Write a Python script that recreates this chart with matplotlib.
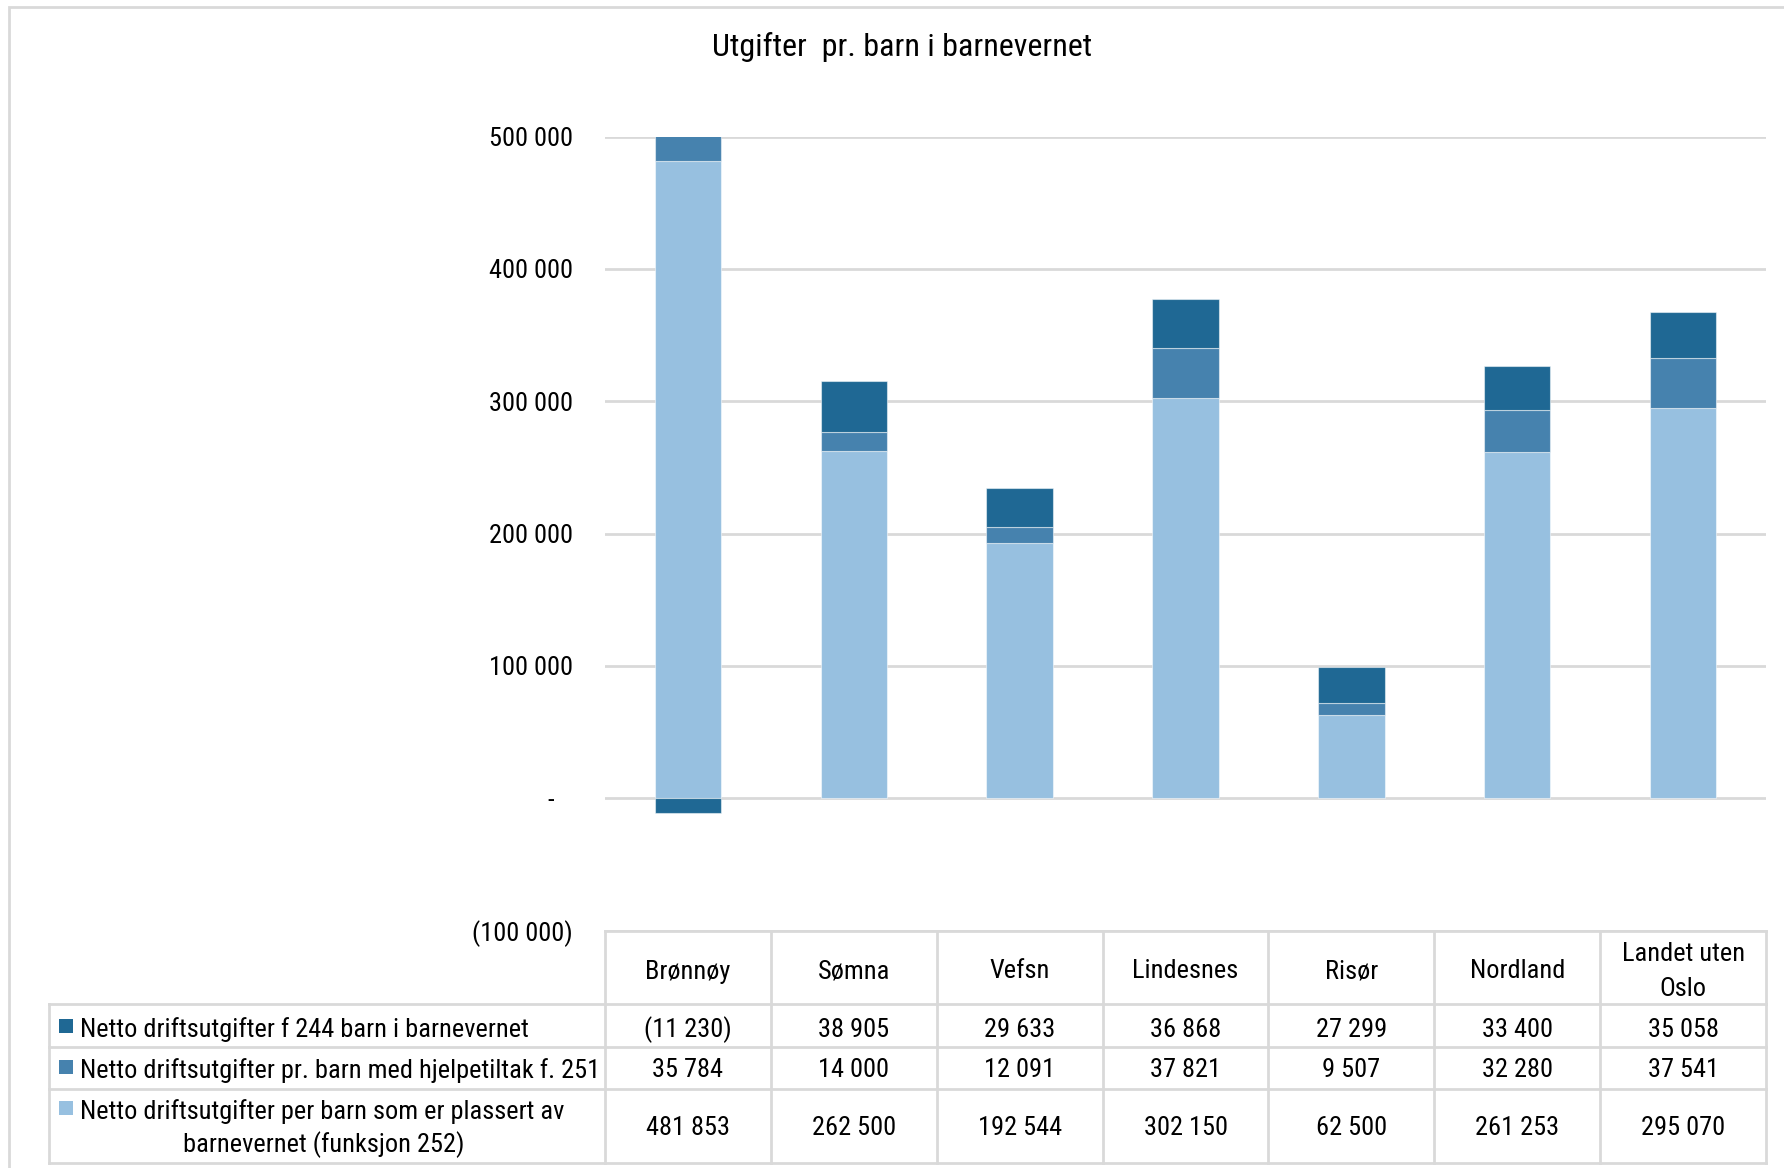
import matplotlib
matplotlib.use("Agg")
import matplotlib.pyplot as plt
from matplotlib.lines import Line2D
from matplotlib.patches import Rectangle
from matplotlib.transforms import blended_transform_factory

plt.rcParams["font.family"] = ["Roboto Condensed", "DejaVu Sans"]

# ---- data -------------------------------------------------------------
title = "Utgifter  pr. barn i barnevernet"
categories = ["Brønnøy", "Sømna", "Vefsn", "Lindesnes", "Risør", "Nordland", "Landet uten\nOslo"]
series_labels = [
    "Netto driftsutgifter f 244 barn i barnevernet",
    "Netto driftsutgifter pr. barn med hjelpetiltak f. 251",
    "Netto driftsutgifter per barn som er plassert av\nbarnevernet (funksjon 252)",
]
f244 = [-11230, 38905, 29633, 36868, 27299, 33400, 35058]
f251 = [35784, 14000, 12091, 37821, 9507, 32280, 37541]
f252 = [481853, 262500, 192544, 302150, 62500, 261253, 295070]
y_ticks = [-100000, 0, 100000, 200000, 300000, 400000, 500000]

colors = {"f244": "#1F6894", "f251": "#4682AE", "f252": "#97C0E0"}
grid_color = "#D9D9D9"

W, H = 1784, 1168


def fmt(v):
    """Norwegian accounting style: space as thousands separator, negatives in parentheses."""
    if v == 0:
        return "-   "
    s = f"{abs(v):,}".replace(",", " ")
    return f"({s})" if v < 0 else s


def fx(px):
    return px / W


def fy(py):
    return 1 - py / H


fig = plt.figure(figsize=(W / 100, H / 100), dpi=100)

# chart area
ax_left, ax_right, ax_top, ax_bottom = 605, 1766, 136.5, 930.5
ax = fig.add_axes([fx(ax_left), fy(ax_bottom), fx(ax_right - ax_left), (ax_bottom - ax_top) / H])
ax.set_xlim(-0.5, len(categories) - 0.5)
ax.set_ylim(y_ticks[0], y_ticks[-1])
for s in ax.spines.values():
    s.set_visible(False)
ax.set_yticks(y_ticks)
ax.set_yticklabels([fmt(t) for t in y_ticks], fontsize=19)
ax.tick_params(axis="y", length=0, pad=23)
ax.tick_params(axis="x", length=0, labelbottom=False)
ax.set_axisbelow(True)
ax.yaxis.grid(True, color=grid_color, linewidth=2)

x = list(range(len(categories)))
bw = 0.4
pos_base = [0] * len(x)
neg_base = [0] * len(x)
for key, vals in (("f252", f252), ("f251", f251), ("f244", f244)):
    bottoms = [pos_base[i] if v >= 0 else neg_base[i] for i, v in enumerate(vals)]
    ax.bar(x, vals, bw, bottom=bottoms, color=colors[key],
           edgecolor=(1, 1, 1, 0.5), linewidth=0.8, zorder=3)
    for i, v in enumerate(vals):
        if v >= 0:
            pos_base[i] += v
        else:
            neg_base[i] += v

fig.text(fx(902), fy(47.5), title, ha="center", va="center", fontsize=23)

# ---- data table -------------------------------------------------------
bt = blended_transform_factory(ax.transData, fig.transFigure)
row_edges = [930.5, 1003.5, 1046.8, 1088.9, 1162.8]
tbl_left = 49
lw_tbl = 2

# horizontal lines
fig.add_artist(Line2D([ax_left, ax_right], [H - row_edges[0]] * 2, color=grid_color,
                      lw=lw_tbl, transform=None))
for r in row_edges[1:]:
    fig.add_artist(Line2D([fx(tbl_left), fx(ax_right)], [fy(r)] * 2, color=grid_color,
                          lw=lw_tbl, transform=fig.transFigure))
# vertical lines
for b in range(len(categories) + 1):
    fig.add_artist(Line2D([b - 0.5, b - 0.5], [fy(row_edges[0]), fy(row_edges[-1])],
                          color=grid_color, lw=lw_tbl, transform=bt))
fig.add_artist(Line2D([fx(tbl_left)] * 2, [fy(row_edges[1]), fy(row_edges[-1])],
                      color=grid_color, lw=lw_tbl, transform=fig.transFigure))

# header
for i, c in enumerate(categories):
    fig.text(i, fy(971.5), c, transform=bt, ha="center", va="center", fontsize=19,
             linespacing=1.55)

# rows
row_y = [1029.8, 1070.3, 1128.3]
row_vals = [f244, f251, f252]
row_keys = ["f244", "f251", "f252"]
for ry, vals in zip(row_y, row_vals):
    for i, v in enumerate(vals):
        fig.text(i, fy(ry), fmt(v), transform=bt, ha="center", va="center", fontsize=19)

# legend cells
marker_y = [1025.5, 1067, 1108]
for k, (key, lab) in enumerate(zip(row_keys, series_labels)):
    fig.add_artist(Rectangle((fx(59), fy(marker_y[k] + 7)), fx(14), 14 / H,
                             facecolor=colors[key], edgecolor="none",
                             transform=fig.transFigure))
    lines = lab.split("\n")
    if len(lines) == 1:
        fig.text(fx(80), fy(row_y[k]), lab, ha="left", va="center", fontsize=19)
    else:
        fig.text(fx(80), fy(1111.5), lines[0], ha="left", va="center", fontsize=19)
        fig.text(fx(324), fy(1144.5), lines[1], ha="center", va="center", fontsize=19)

# outer frame
fig.add_artist(Rectangle((fx(9), fy(H + 20)), fx(W), (H + 20 - 7) / H, fill=False,
                         edgecolor=grid_color, lw=2, transform=fig.transFigure))

fig.savefig("out.png", dpi=100)
